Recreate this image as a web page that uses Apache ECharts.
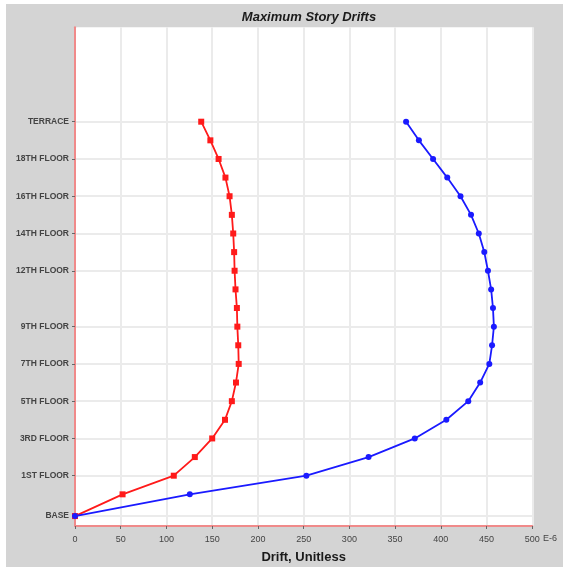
<!DOCTYPE html>
<html>
<head>
<meta charset="utf-8">
<script src="https://cdn.jsdelivr.net/npm/echarts@6/dist/echarts.min.js"></script>
<style>
  html, body { margin: 0; padding: 0; background: #fff; }
  #chart { position: absolute; left: 6px; top: 4px; width: 557px; height: 563px; }
</style>
</head>
<body>
<div id="chart"></div>
<script>
// story levels, bottom to top, with elevation (m)
var stories = ['BASE', 'GROUND', '1ST FLOOR', '2ND FLOOR', '3RD FLOOR', '4TH FLOOR', '5TH FLOOR',
  '6TH FLOOR', '7TH FLOOR', '8TH FLOOR', '9TH FLOOR', '10TH FLOOR', '11TH FLOOR', '12TH FLOOR',
  '13TH FLOOR', '14TH FLOOR', '15TH FLOOR', '16TH FLOOR', '17TH FLOOR', '18TH FLOOR', '19TH FLOOR', 'TERRACE'];
var elevations = [0, 3.5, 6.5, 9.5, 12.5, 15.5, 18.5, 21.5, 24.5, 27.5, 30.5, 33.5, 36.5, 39.5,
  42.5, 45.5, 48.5, 51.5, 54.5, 57.5, 60.5, 63.5];

// drift values, E-6
var driftRed = [0, 52, 108, 131, 150, 164, 171.5, 176, 179, 178.5, 177.5, 177, 175.5, 174.5,
  174, 173, 171.5, 169, 164.5, 157, 148, 138];
var driftBlue = [0, 125.5, 253, 321, 371.5, 406, 430, 443, 453, 456, 458, 457, 455, 451.5,
  447.5, 441.5, 433, 421.5, 407, 391.5, 376, 362];

// stories shown on the axis
var labelStories = ['BASE', '1ST FLOOR', '3RD FLOOR', '5TH FLOOR', '7TH FLOOR', '9TH FLOOR',
  '12TH FLOOR', '14TH FLOOR', '16TH FLOOR', '18TH FLOOR', 'TERRACE'];
var xTicks = [0, 50, 100, 150, 200, 250, 300, 350, 400, 450, 500];

var labelElev = labelStories.map(function (s) { return elevations[stories.indexOf(s)]; });

function pairs(vals) {
  return vals.map(function (v, i) { return [v, elevations[i]]; });
}

var chart = echarts.init(document.getElementById('chart'));
chart.setOption({
  backgroundColor: '#d4d4d4',
  animation: false,
  title: {
    text: 'Maximum Story Drifts',
    left: 298,
    top: 2,
    textAlign: 'center',
    textStyle: { fontFamily: 'Liberation Sans', fontSize: 13, fontWeight: 'bold', fontStyle: 'italic', color: '#1a1a1a' }
  },
  graphic: [{
    type: 'text',
    left: 537,
    top: 530,
    style: { text: 'E-6', fontFamily: 'Liberation Sans', fontSize: 9, fill: '#444' }
  }],
  grid: {
    left: 69, right: 30.7, top: 23.3, bottom: 41,
    show: true, backgroundColor: '#fff', borderWidth: 0,
    containLabel: false, outerBoundsMode: 'none'
  },
  xAxis: {
    type: 'value',
    min: 0, max: 500, interval: 50,
    name: 'Drift, Unitless',
    nameLocation: 'middle',
    nameGap: 25,
    nameTextStyle: { fontFamily: 'Liberation Sans', fontSize: 13, fontWeight: 'bold', color: '#1a1a1a' },
    axisLine: { onZero: false, lineStyle: { color: '#f08a8a', width: 2 } },
    axisTick: { show: true, length: 3, lineStyle: { color: '#666' } },
    axisLabel: {
      fontFamily: 'Liberation Sans', fontSize: 9, color: '#444', margin: 9,
      formatter: function (v) { return xTicks.indexOf(v) >= 0 ? String(v) : ''; }
    },
    splitLine: { show: true, lineStyle: { color: '#ebebeb', width: 2 } }
  },
  yAxis: {
    type: 'value',
    min: -1.6, max: 78.7,
    axisLine: { onZero: false, lineStyle: { color: '#f08a8a', width: 2 } },
    axisTick: { show: true, length: 3, customValues: labelElev, lineStyle: { color: '#666' } },
    axisLabel: {
      customValues: labelElev,
      fontFamily: 'Liberation Sans', fontSize: 8.5, fontWeight: 'bold', color: '#444', margin: 6,
      formatter: function (v) {
        var i = labelElev.indexOf(v);
        return i >= 0 ? labelStories[i] : '';
      }
    },
    splitLine: { show: true, lineStyle: { color: '#ebebeb', width: 2 } }
  },
  series: [
    {
      name: 'Red', type: 'line', data: pairs(driftRed),
      symbol: 'rect', symbolSize: 6, showSymbol: true,
      lineStyle: { color: '#ff1a1a', width: 1.8 },
      itemStyle: { color: '#ff1a1a' }
    },
    {
      name: 'Blue', type: 'line', data: pairs(driftBlue),
      symbol: 'circle', symbolSize: 6, showSymbol: true,
      lineStyle: { color: '#1a1aff', width: 1.8 },
      itemStyle: { color: '#1a1aff' }
    }
  ]
});
</script>
</body>
</html>
